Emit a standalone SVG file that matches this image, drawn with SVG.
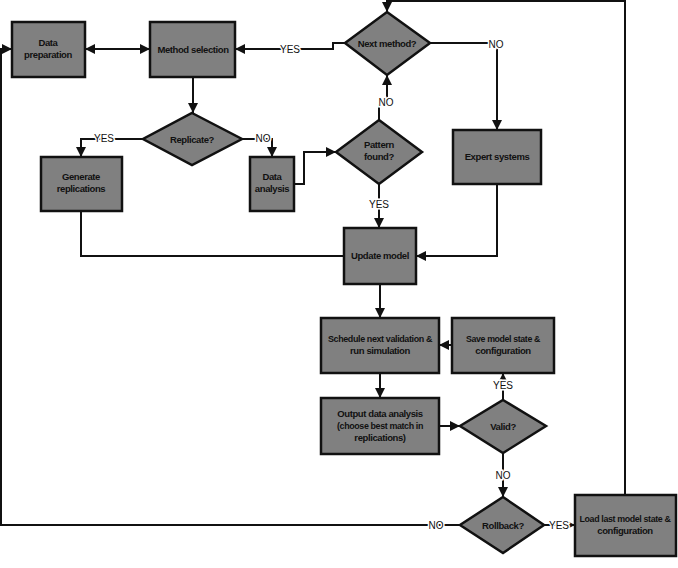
<svg xmlns="http://www.w3.org/2000/svg" width="678" height="568" viewBox="0 0 678 568">
<style>
.n{fill:#808080;stroke:#111;stroke-width:2.5}
.t{font-family:"Liberation Sans",Arial,sans-serif;font-size:9.5px;font-weight:bold;fill:#111;text-anchor:middle;letter-spacing:-0.4px}
.c path{fill:none;stroke:#111;stroke-width:2}
.l{font-family:"Liberation Sans",Arial,sans-serif;font-size:10px;fill:#111;text-anchor:middle;stroke:#fff;stroke-width:3;paint-order:stroke}
</style>
<defs>
<marker id="a" viewBox="0 0 10 10" refX="10" refY="5" markerWidth="5" markerHeight="5" orient="auto-start-reverse"><path d="M0,0 L10,5 L0,10 z" fill="#111"/></marker>
</defs>
<rect width="678" height="568" fill="#fff"/>
<g class="c">
<path d="M387,0 V12" marker-end="url(#a)"/>
<path d="M625,495 V1 H387"/>
<path d="M345,43 H333 V49 H235" marker-end="url(#a)"/>
<path d="M430,43 H497 V130" marker-end="url(#a)"/>
<path d="M85,49 H150" marker-start="url(#a)" marker-end="url(#a)"/>
<path d="M193,77 V113" marker-end="url(#a)"/>
<path d="M143,139 H81 V157" marker-end="url(#a)"/>
<path d="M242,139 H272 V157" marker-end="url(#a)"/>
<path d="M294,184 H304 V152 H336" marker-end="url(#a)"/>
<path d="M379,120 V105 H387 V75" marker-end="url(#a)"/>
<path d="M379,184 V228" marker-end="url(#a)"/>
<path d="M81,211 V256 H344"/>
<path d="M497,184 V256 H416" marker-end="url(#a)"/>
<path d="M380,284 V318" marker-end="url(#a)"/>
<path d="M452,345 H439" marker-end="url(#a)"/>
<path d="M380,373 V398" marker-end="url(#a)"/>
<path d="M439,426 H460" marker-end="url(#a)"/>
<path d="M503,400 V373" marker-end="url(#a)"/>
<path d="M503,453 V497" marker-end="url(#a)"/>
<path d="M460,525 H1 V49 H12" marker-end="url(#a)"/>
<path d="M544,525 H575" marker-end="url(#a)"/>
</g>
<g id="labels">
<text class="l" x="290" y="53">YES</text>
<text class="l" x="496" y="48">NO</text>
<text class="l" x="104" y="142">YES</text>
<text class="l" x="263" y="142">NO</text>
<text class="l" x="386" y="106">NO</text>
<text class="l" x="379" y="208">YES</text>
<text class="l" x="503" y="389">YES</text>
<text class="l" x="503" y="479">NO</text>
<text class="l" x="436" y="529">NO</text>
<text class="l" x="559" y="529">YES</text>
</g>
<g id="dataprep"><rect class="n" x="12" y="22" width="73" height="55"/><text class="t" x="48" y="46">Data</text><text class="t" x="48" y="58">preparation</text></g>
<g id="method"><rect class="n" x="150" y="22" width="85" height="55"/><text class="t" x="193" y="53">Method selection</text></g>
<g id="nextmethod"><polygon class="n" points="387,12 430,43 387,75 345,43"/><text class="t" x="387" y="47">Next method?</text></g>
<g id="expert"><rect class="n" x="453" y="130" width="88" height="54"/><text class="t" x="497" y="160">Expert systems</text></g>
<g id="replicate"><polygon class="n" points="192,113 242,139 192,165 143,139"/><text class="t" x="192" y="143">Replicate?</text></g>
<g id="generate"><rect class="n" x="41" y="157" width="81" height="54"/><text class="t" x="81" y="180">Generate</text><text class="t" x="81" y="192">replications</text></g>
<g id="dataanalysis"><rect class="n" x="250" y="157" width="44" height="54"/><text class="t" x="272" y="180">Data</text><text class="t" x="272" y="192">analysis</text></g>
<g id="pattern"><polygon class="n" points="379,120 422,152 379,184 336,152"/><text class="t" x="379" y="148">Pattern</text><text class="t" x="379" y="160">found?</text></g>
<g id="update"><rect class="n" x="344" y="228" width="72" height="56"/><text class="t" x="380" y="259">Update model</text></g>
<g id="schedule"><rect class="n" x="321" y="318" width="118" height="55"/><text class="t" x="380" y="342" textLength="104" lengthAdjust="spacingAndGlyphs">Schedule next validation &amp;</text><text class="t" x="380" y="354">run simulation</text></g>
<g id="save"><rect class="n" x="452" y="318" width="102" height="55"/><text class="t" x="503" y="342" textLength="74" lengthAdjust="spacingAndGlyphs">Save model state &amp;</text><text class="t" x="503" y="354">configuration</text></g>
<g id="output"><rect class="n" x="321" y="398" width="118" height="56"/><text class="t" x="380" y="417">Output data analysis</text><text class="t" x="380" y="429" textLength="86" lengthAdjust="spacingAndGlyphs">(choose best match in</text><text class="t" x="380" y="441">replications)</text></g>
<g id="valid"><polygon class="n" points="503,400 546,426 503,453 460,426"/><text class="t" x="503" y="430">Valid?</text></g>
<g id="rollback"><polygon class="n" points="503,497 544,525 503,553 460,525"/><text class="t" x="503" y="529">Rollback?</text></g>
<g id="load"><rect class="n" x="575" y="495" width="101" height="61"/><text class="t" x="625" y="522" textLength="91" lengthAdjust="spacingAndGlyphs">Load last model state &amp;</text><text class="t" x="625" y="534">configuration</text></g>
</svg>
